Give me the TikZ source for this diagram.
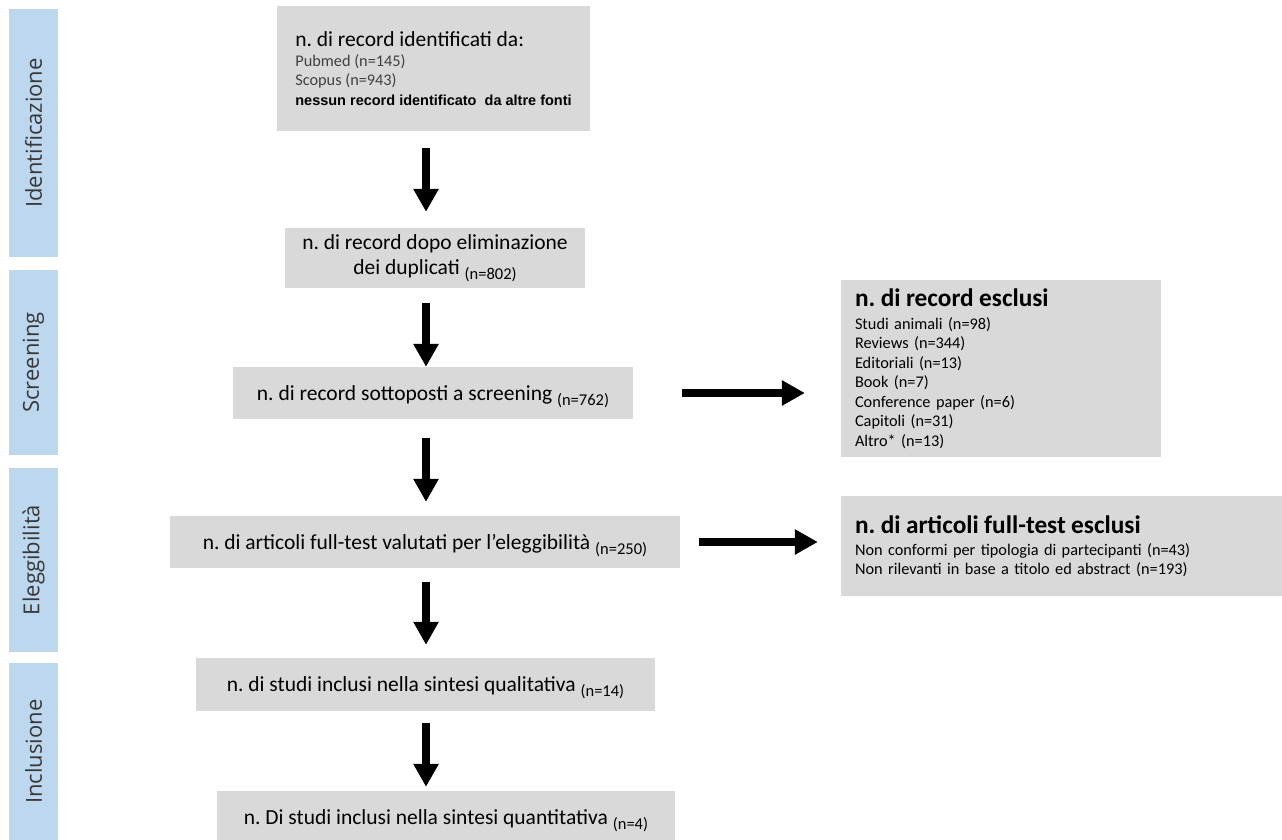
\documentclass[tikz,border=0pt]{standalone}
\usepackage{fontspec}
\setmainfont{Carlito}
\newfontfamily\arialfont{Liberation Sans}
\newfontfamily\sidefont{Open Sans}
\usetikzlibrary{arrows.meta}
\frenchspacing
\definecolor{boxgray}{HTML}{D9D9D9}
\definecolor{phaseblue}{HTML}{BDD7EE}
\newcommand{\nsub}[1]{\raisebox{-5pt}{\fontsize{16.5}{16.5}\selectfont(n=#1)}}

\begin{document}
\begin{tikzpicture}[x=1pt, y=-1pt,
        phase/.style={fill=phaseblue, rotate=90, minimum height=49pt, inner sep=0pt, text=black!78, font=\sidefont\fontsize{22}{22}\selectfont},
        stepbox/.style={fill=boxgray, inner sep=0pt, text height=20pt, text depth=6pt, font=\fontsize{21.5}{25}\selectfont},
        exclbox/.style={fill=boxgray, inner xsep=14pt, inner ysep=0pt, align=left, font=\fontsize{16.3}{19.5}\selectfont},
        flow/.style={line width=8pt, -{Triangle[width=24pt,length=23pt]}}]
        \useasboundingbox (0,0) rectangle (1282,840);
        \clip (0,0) rectangle (1282,840);

        % Drawing the phase bars
        \node[phase, minimum width=248pt] (ident) at (33.5,133) {Identificazione};
        \node[phase, minimum width=185pt] (screen) at (33.5,362.5) {Screening};
        \node[phase, minimum width=184pt] (elig) at (33.5,560) {Eleggibilità};
        \node[phase, minimum width=177pt] (incl) at (33.5,751.5) {Inclusione};

        % Drawing the main boxes
        \node[stepbox, text height=, text depth=, align=left, minimum width=313pt, minimum height=125pt, font=\fontsize{16.3}{19.5}\selectfont] (found) at (433.5,68.5)
            {{\fontsize{21.5}{25}\selectfont n. di record identificati da:}\\[0.5pt]
             {\color{black!75}Pubmed (n=145)}\\
             {\color{black!75}Scopus (n=943)}\\
             {\arialfont\bfseries\fontsize{14.5}{19.5}\selectfont nessun record identificato\ \ da altre fonti}};
        \node[stepbox, text height=, text depth=, align=center, minimum width=300pt, minimum height=60pt] (dedup) at (435,258)
            {n. di record dopo eliminazione\\dei duplicati \nsub{802}};
        \node[stepbox, minimum width=400pt, minimum height=52pt] (screened) at (433,393) {n. di record sottoposti a screening \nsub{762}};
        \node[stepbox, minimum width=510pt, minimum height=52pt] (fulltext) at (425,542) {n. di articoli full-test valutati per l’eleggibilità \nsub{250}};
        \node[stepbox, minimum width=459pt, minimum height=53pt] (quali) at (425.5,684.5) {n. di studi inclusi nella sintesi qualitativa \nsub{14}};
        \node[stepbox, minimum width=458pt, minimum height=52pt] (quanti) at (446,817) {n. Di studi inclusi nella sintesi quantitativa \nsub{4}};

        % Drawing the excluded boxes
        \node[exclbox, minimum width=320pt, minimum height=177pt, text width=292pt] (rejrec) at (1001,368.5)
            {{\fontsize{25.3}{25}\selectfont\bfseries n. di record esclusi}\\[3.5pt]
             Studi animali (n=98)\\
             Reviews (n=344)\\
             Editoriali (n=13)\\
             Book (n=7)\\
             Conference paper (n=6)\\
             Capitoli (n=31)\\
             Altro* (n=13)};
        \node[exclbox, minimum width=441pt, minimum height=100pt, text width=413pt] (rejart) at (1061.5,546)
            {{\fontsize{25.3}{25}\selectfont\bfseries n. di articoli full-test esclusi}\\[2.5pt]
             Non conformi per tipologia di partecipanti (n=43)\\
             Non rilevanti in base a titolo ed abstract (n=193)};

        % Arrows
        \coordinate (spine) at (426,0); % common x of the down arrows
        \draw[flow, shorten <=17pt, shorten >=16pt] (found.south -| spine) -- (dedup.north -| spine);
        \draw[flow, shorten <=15pt] (dedup.south -| spine) -- (screened.north -| spine);
        \draw[flow, shorten <=19pt, shorten >=14pt] (screened.south -| spine) -- (fulltext.north -| spine);
        \draw[flow, shorten <=14pt, shorten >=13pt] (fulltext.south -| spine) -- (quali.north -| spine);
        \draw[flow, shorten <=12pt, shorten >=4pt] (quali.south -| spine) -- (quanti.north -| spine);
        \draw[flow, shorten <=49pt, shorten >=36pt] (screened.east) -- (screened.east -| rejrec.west);
        \draw[flow, shorten <=19pt, shorten >=23pt] (fulltext.east) -- (fulltext.east -| rejart.west);

    \end{tikzpicture}
\end{document}
